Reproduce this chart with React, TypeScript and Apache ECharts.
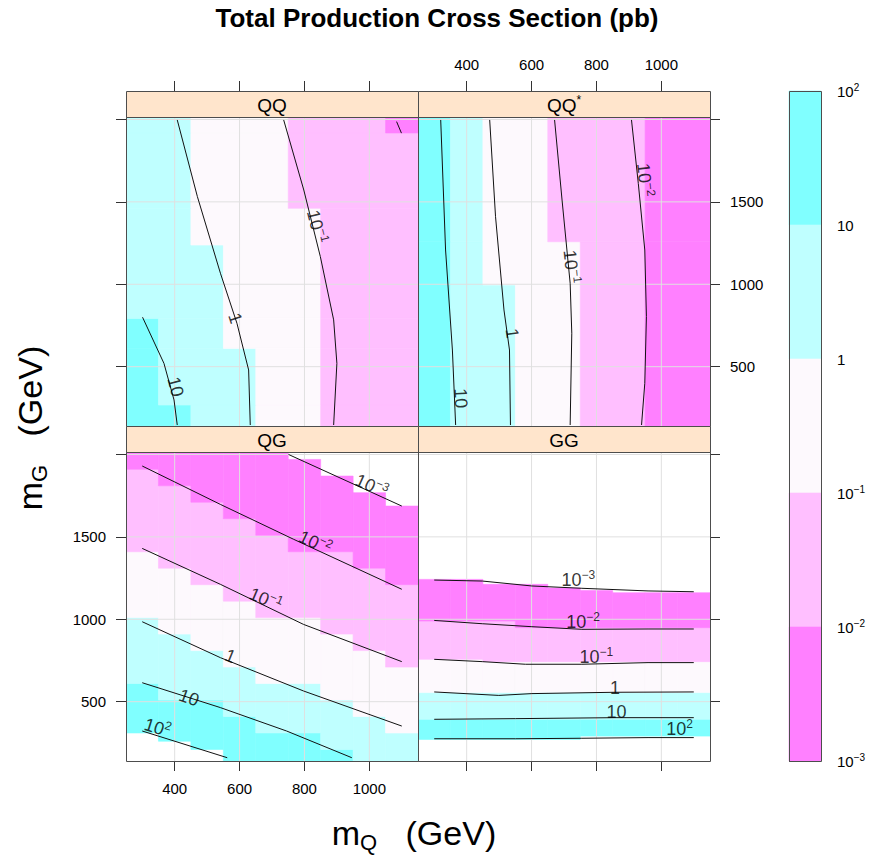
import React, { useEffect, useRef } from 'react';
import * as echarts from 'echarts';

// ---------- axis ranges & ticks ----------
const X_MIN = 250;
const X_MAX = 1150;
const Y_MIN = 140;
const Y_MAX = 2015;
const xTicks = [400, 600, 800, 1000];
const yTicks = [500, 1000, 1500, 2000];
const yTickLabels = [500, 1000, 1500];

// ---------- colour bands (cm.colors) ----------
// band 0: >1e2 (blank), 1: 10-100, 2: 1-10, 3: 0.1-1, 4: 0.01-0.1, 5: 0.001-0.01, 6: <1e-3 (blank)
const bandColors = ['#FFFFFF', '#80FFFF', '#BFFFFF', '#FDF9FD', '#FFBFFF', '#FF80FF', '#FFFFFF'];
const colorbarExponents = [2, 1, 0, -1, -2, -3];

// ---------- panel names ----------
const panelNames = ['QQ', 'QQ*', 'QG', 'GG'];

// ---------- cell data ----------
// QG and GG : for every m_Q column, the m_G values where the band changes
// [10^2, 10, 1, 10^-1, 10^-2, 10^-3]
const colCenters = [300, 400, 500, 600, 700, 800, 900, 1000, 1100];
const qgColBreaks = [
  [310, 610, 1010, 1410, 1910, 2100],
  [260, 510, 910, 1310, 1810, 2100],
  [210, 510, 810, 1210, 1710, 2100],
  [100, 410, 710, 1110, 1610, 2100],
  [100, 310, 610, 1010, 1510, 2100],
  [100, 310, 610, 1010, 1410, 1970],
  [100, 210, 510, 910, 1410, 1869],
  [100, 100, 410, 810, 1310, 1768],
  [100, 100, 310, 710, 1210, 1687],
];
const ggColBreaks = [
  [271, 393, 555, 757, 989, 1242],
  [271, 393, 555, 757, 989, 1242],
  [271, 393, 555, 743, 989, 1212],
  [271, 393, 555, 743, 949, 1212],
  [271, 393, 555, 743, 949, 1190],
  [291, 393, 555, 743, 949, 1175],
  [291, 393, 555, 743, 949, 1161],
  [291, 393, 555, 743, 949, 1161],
  [291, 393, 555, 743, 949, 1161],
];
// QQ and QQ* : for every m_G row, the m_Q values where the band changes
const qqRowEdges = [140, 267, 611, 793, 1238, 1461, 1918, 2015];
const qqRowBreaks = [
  [250, 450, 650, 850, 1150, 1150],
  [250, 350, 650, 850, 1150, 1150],
  [250, 350, 550, 850, 1150, 1150],
  [250, 250, 550, 850, 1150, 1150],
  [250, 250, 450, 850, 1150, 1150],
  [250, 250, 450, 750, 1150, 1150],
  [250, 250, 450, 750, 1050, 1150],
];
const qqsRowEdges = [140, 996, 1258, 2015];
const qqsRowBreaks = [
  [250, 350, 550, 750, 950, 1150],
  [250, 350, 450, 750, 950, 1150],
  [250, 350, 450, 650, 950, 1150],
];

// ---------- contour lines [m_Q, m_G] ----------
const qqContours = [
  { level: '10', pts: [[301, 800], [367, 520], [398, 298], [408, 146]] },
  { level: '1', pts: [[408, 1997], [470, 1532], [541, 1067], [592, 763], [628, 480], [633, 146]] },
  { level: '10^-1', pts: [[736, 1997], [798, 1572], [849, 1168], [890, 784], [900, 520], [890, 146]] },
  { level: '10^-2', pts: [[1084, 1987], [1099, 1917]] },
];
const qqsContours = [
  { level: '10', pts: [[320, 1997], [335, 1208], [356, 601], [366, 146]] },
  { level: '1', pts: [[471, 1997], [489, 1410], [515, 844], [532, 601], [535, 146]] },
  { level: '10^-1', pts: [[671, 1997], [694, 1511], [719, 1006], [724, 703], [719, 146]] },
  { level: '10^-2', pts: [[908, 1997], [929, 1612], [949, 1208], [954, 804], [949, 399], [939, 146]] },
];
const qgContours = [
  { level: '10^-3', pts: [[751, 2000], [1100, 1687]] },
  { level: '10^-2', pts: [[300, 1930], [541, 1697], [767, 1485], [1100, 1182]] },
  { level: '10^-1', pts: [[300, 1430], [541, 1212], [797, 969], [1100, 743]] },
  { level: '1', pts: [[300, 985], [541, 767], [797, 565], [1100, 352]] },
  { level: '10', pts: [[300, 615], [541, 464], [745, 322], [946, 160]] },
  { level: '10^2', pts: [[300, 322], [562, 160]] },
];
const ggContours = [
  { level: '10^-3', pts: [[300, 1238], [448, 1232], [601, 1202], [755, 1188], [959, 1172], [1100, 1167]] },
  { level: '10^-2', pts: [[300, 993], [448, 973], [601, 955], [755, 939], [959, 941], [1100, 941]] },
  { level: '10^-1', pts: [[300, 757], [448, 743], [581, 727], [755, 727], [959, 737], [1100, 737]] },
  { level: '1', pts: [[300, 559], [499, 538], [601, 549], [857, 557], [1100, 559]] },
  { level: '10', pts: [[300, 393], [550, 397], [857, 403], [1100, 403]] },
  { level: '10^2', pts: [[300, 275], [550, 275], [755, 278], [959, 282], [1100, 282]] },
];

// ---------- contour labels [m_Q, m_G, angle] ----------
const qqLabels = [
  { level: '10', at: [403, 378, -75] },
  { level: '1', at: [587, 794, -72] },
  { level: '10^-1', at: [838, 1350, -76] },
];
const qqsLabels = [
  { level: '10', at: [382, 308, -87] },
  { level: '1', at: [540, 702, -82] },
  { level: '10^-1', at: [722, 1107, -84] },
  { level: '10^-2', at: [949, 1633, -84] },
];
const qgLabels = [
  { level: '10^-3', at: [1007, 1809, -24] },
  { level: '10^-2', at: [833, 1465, -25] },
  { level: '10^-1', at: [680, 1121, -23] },
  { level: '1', at: [572, 777, -22] },
  { level: '10', at: [444, 524, -20] },
  { level: '10^2', at: [347, 342, -17] },
];
const ggLabels = [
  { level: '10^-3', at: [744, 1236, 0] },
  { level: '10^-2', at: [759, 985, 0] },
  { level: '10^-1', at: [800, 773, 0] },
  { level: '1', at: [857, 585, 0] },
  { level: '10', at: [862, 439, 0] },
  { level: '10^2', at: [1056, 332, 0] },
];

// ---------- layout ----------
const FONT = '"Liberation Sans", Arial, Helvetica, sans-serif';
const PW = 292;
const PH = 309;
const SH = 26;
const layout = [
  { left: 126, top: 117, xTop: true, xLab: false, yRight: false, yLab: false },
  { left: 418, top: 117, xTop: true, xLab: true, yRight: true, yLab: true },
  { left: 126, top: 452, xTop: false, xLab: true, yRight: false, yLab: true },
  { left: 418, top: 452, xTop: false, xLab: false, yRight: true, yLab: false },
];

function levelRich(name: string): string {
  if (name === '1') return '{b|1}';
  if (name === '10') return '{b|10}';
  const exp = name.split('^')[1].replace('-', '\u2212');
  return '{b|10}{s|' + exp + '}';
}

function colCells(breaks: number[][]) {
  const out: number[][] = [];
  breaks.forEach((b, i) => {
    const xc = colCenters[i];
    for (let k = 1; k <= 5; k++) {
      const y0 = Math.max(b[k - 1], Y_MIN);
      const y1 = Math.min(b[k], Y_MAX);
      if (y1 > y0) out.push([xc - 50, xc + 50, y0, y1, k]);
    }
  });
  return out;
}

function rowCells(edges: number[], breaks: number[][]) {
  const out: number[][] = [];
  breaks.forEach((b, r) => {
    const y0 = edges[r];
    const y1 = edges[r + 1];
    for (let k = 1; k <= 5; k++) {
      const x0 = Math.max(b[k - 1], X_MIN);
      const x1 = Math.min(b[k], X_MAX);
      if (x1 > x0) out.push([x0, x1, y0, y1, k]);
    }
  });
  return out;
}

const cellRender = (params: any, api: any) => {
  const a = api.coord([api.value(0), api.value(3)]);
  const b = api.coord([api.value(1), api.value(2)]);
  const c = bandColors[api.value(4)];
  return {
    type: 'rect',
    shape: { x: a[0], y: a[1], width: b[0] - a[0], height: b[1] - a[1] },
    style: { fill: c, stroke: c, lineWidth: 0.6 },
  };
};

const gridLineData = [
  ...xTicks.map((v) => [0, v]),
  ...yTicks.map((v) => [1, v]),
];
const gridLineRender = (params: any, api: any) => {
  const kind = api.value(0);
  const v = api.value(1);
  const p0 = kind === 0 ? api.coord([v, Y_MIN]) : api.coord([X_MIN, v]);
  const p1 = kind === 0 ? api.coord([v, Y_MAX]) : api.coord([X_MAX, v]);
  return {
    type: 'line',
    shape: { x1: p0[0], y1: p0[1], x2: p1[0], y2: p1[1] },
    style: { stroke: '#E0E0E0', lineWidth: 1 },
  };
};

const contourRich = {
  b: { fontSize: 18, lineHeight: 22, fontFamily: FONT, color: '#000' },
  s: { fontSize: 12, lineHeight: 12, verticalAlign: 'top', fontFamily: FONT, color: '#000' },
};

const plainNum = (v: number) => String(Math.round(v));

function buildOption() {
  const cellSets = [
    rowCells(qqRowEdges, qqRowBreaks),
    rowCells(qqsRowEdges, qqsRowBreaks),
    colCells(qgColBreaks),
    colCells(ggColBreaks),
  ];
  const contourSets = [qqContours, qqsContours, qgContours, ggContours];
  const labelSets = [qqLabels, qqsLabels, qgLabels, ggLabels];

  const grid: any[] = [];
  const xAxis: any[] = [];
  const yAxis: any[] = [];
  const series: any[] = [];
  const graphic: any[] = [];

  layout.forEach((L, i) => {
    grid.push({ left: L.left, top: L.top, width: PW, height: PH, containLabel: false });
    xAxis.push({
      type: 'value', gridIndex: i, min: X_MIN, max: X_MAX,
      position: L.xTop ? 'top' : 'bottom', offset: L.xTop ? SH : 0,
      axisLine: { show: false }, splitLine: { show: false },
      axisTick: { show: true, customValues: xTicks, length: 10, lineStyle: { color: '#333', width: 1 } },
      axisLabel: {
        show: L.xLab, customValues: xTicks, margin: L.xTop ? 19 : 20, fontSize: 15,
        color: '#000', fontFamily: FONT, formatter: plainNum,
      },
    });
    yAxis.push({
      type: 'value', gridIndex: i, min: Y_MIN, max: Y_MAX,
      position: L.yRight ? 'right' : 'left',
      axisLine: { show: false }, splitLine: { show: false },
      axisTick: { show: true, customValues: yTicks, length: 10, lineStyle: { color: '#333', width: 1 } },
      axisLabel: {
        show: L.yLab, customValues: yTickLabels, margin: 20, fontSize: 15,
        color: '#000', fontFamily: FONT, formatter: plainNum,
      },
    });
    series.push({
      type: 'custom', xAxisIndex: i, yAxisIndex: i, renderItem: cellRender,
      data: cellSets[i], encode: { x: [0, 1], y: [2, 3] }, clip: true, silent: true, z: 1,
    });
    series.push({
      type: 'custom', xAxisIndex: i, yAxisIndex: i, renderItem: gridLineRender,
      data: gridLineData, clip: true, silent: true, z: 2,
    });
    contourSets[i].forEach((c) => {
      series.push({
        type: 'line', xAxisIndex: i, yAxisIndex: i, data: c.pts, symbol: 'none',
        lineStyle: { color: '#111', width: 1 }, silent: true, clip: true, z: 3,
      });
    });
    series.push({
      type: 'scatter', xAxisIndex: i, yAxisIndex: i, symbolSize: 1, silent: true, z: 4,
      itemStyle: { color: 'rgba(0,0,0,0)' },
      data: labelSets[i].map((l) => ({
        value: [l.at[0], l.at[1]],
        label: {
          show: true, position: 'inside', rotate: l.at[2], formatter: levelRich(l.level),
          rich: contourRich, align: 'center', verticalAlign: 'middle',
        },
      })),
    });

    // strip
    graphic.push({
      type: 'rect', z: 10,
      shape: { x: L.left + 0.5, y: L.top - SH + 0.5, width: PW, height: SH },
      style: { fill: '#FFE5CC', stroke: '#4D4D4D', lineWidth: 1 },
    });
    const nm = panelNames[i];
    const stripText = nm.endsWith('*') ? '{a|' + nm.slice(0, -1) + '}{s|*}' : '{a|' + nm + '}';
    graphic.push({
      type: 'text', z: 11, x: L.left + PW / 2, y: L.top - SH / 2 + 1,
      style: {
        text: stripText, align: 'center', verticalAlign: 'middle', fill: '#000',
        rich: {
          a: { fontSize: 19, lineHeight: 22, fontFamily: FONT, fill: '#000' },
          s: { fontSize: 12, lineHeight: 12, verticalAlign: 'top', fontFamily: FONT, fill: '#000' },
        },
      },
    });
    // panel border
    graphic.push({
      type: 'rect', z: 10,
      shape: { x: L.left + 0.5, y: L.top + 0.5, width: PW, height: PH },
      style: { fill: 'none', stroke: '#4D4D4D', lineWidth: 1 },
    });
  });

  // colour key
  const ci = 4;
  grid.push({ left: 789, top: 91, width: 32, height: 670, containLabel: false });
  xAxis.push({ type: 'value', gridIndex: ci, min: 0, max: 1, show: false });
  yAxis.push({
    type: 'value', gridIndex: ci, min: -3, max: 2, interval: 1, position: 'right',
    axisLine: { show: false }, splitLine: { show: false },
    axisTick: { show: true, length: 7, lineStyle: { color: '#333', width: 1 } },
    axisLabel: {
      margin: 16, fontFamily: FONT,
      formatter: (v: number) => {
        if (v === 0) return '{b|1}';
        if (v === 1) return '{b|10}';
        return '{b|10}{s|' + String(v).replace('-', '\u2212') + '}';
      },
      rich: {
        b: { fontSize: 15, lineHeight: 18, fontFamily: FONT, color: '#000' },
        s: { fontSize: 10, lineHeight: 10, verticalAlign: 'top', fontFamily: FONT, color: '#000' },
      },
    },
  });
  const keyData = colorbarExponents.slice(0, 5).map((e, k) => [e - 1, e, k + 1]);
  series.push({
    type: 'custom', xAxisIndex: ci, yAxisIndex: ci, silent: true, z: 1,
    data: keyData, encode: { y: [0, 1] },
    renderItem: (params: any, api: any) => {
      const a = api.coord([0, api.value(1)]);
      const b = api.coord([1, api.value(0)]);
      const c = bandColors[api.value(2)];
      return {
        type: 'rect',
        shape: { x: a[0], y: a[1], width: b[0] - a[0], height: b[1] - a[1] },
        style: { fill: c, stroke: c, lineWidth: 0.6 },
      };
    },
  });
  graphic.push({
    type: 'rect', z: 10,
    shape: { x: 789.5, y: 91.5, width: 32, height: 670 },
    style: { fill: 'none', stroke: '#4D4D4D', lineWidth: 1 },
  });

  // titles
  graphic.push({
    type: 'text', z: 11, x: 437, y: 18,
    style: {
      text: 'Total Production Cross Section (pb)', align: 'center', verticalAlign: 'middle',
      fontSize: 26, fontWeight: 'bold', fontFamily: FONT, fill: '#000',
    },
  });
  const axTitleRich = {
    m: { fontSize: 34, lineHeight: 40, fontFamily: FONT, fill: '#000' },
    q: { fontSize: 22, lineHeight: 22, verticalAlign: 'bottom', fontFamily: FONT, fill: '#000' },
  };
  graphic.push({
    type: 'text', z: 11, x: 414, y: 833,
    style: { text: '{m|m}{q|Q}{m|   (GeV)}', align: 'center', verticalAlign: 'middle', rich: axTitleRich, fill: '#000' },
  });
  graphic.push({
    type: 'text', z: 11, x: 30, y: 428, rotation: Math.PI / 2,
    style: { text: '{m|m}{q|G}{m|   (GeV)}', align: 'center', verticalAlign: 'middle', rich: axTitleRich, fill: '#000' },
  });

  return { animation: false, backgroundColor: '#fff', grid, xAxis, yAxis, series, graphic };
}

export default function App() {
  const ref = useRef<HTMLDivElement>(null);
  useEffect(() => {
    if (!ref.current) return;
    const chart = echarts.init(ref.current, null, { renderer: 'svg' });
    chart.setOption(buildOption() as any);
    return () => chart.dispose();
  }, []);
  return (
    <div
      ref={ref}
      style={{ position: 'fixed', left: 0, top: 0, width: 874, height: 861, background: '#fff' }}
    />
  );
}
